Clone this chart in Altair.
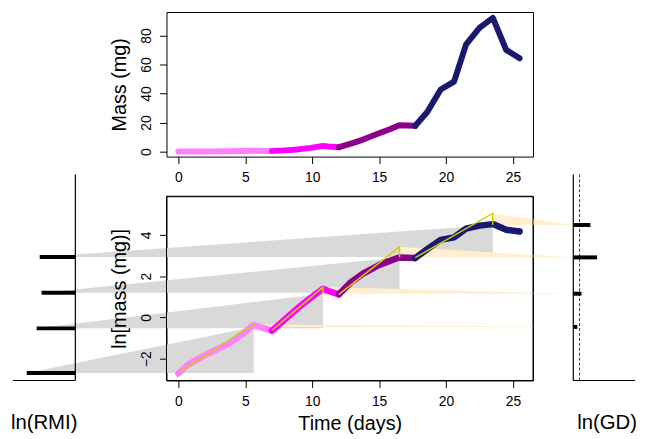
import altair as alt
import pandas as pd

# ---------------- data ----------------
instars = ["1st", "2nd", "3rd", "4th"]
instar_colors = ["#FF80FF", "#FF00FF", "#8B008B", "#191970"]

day_i1 = [0.0, 0.7, 1.8, 2.8, 3.8, 4.8, 5.6, 7.0]
mass_i1 = [0.066, 0.101, 0.151, 0.208, 0.287, 0.449, 0.691, 0.527]
day_i2 = [7.0, 7.9, 8.9, 9.9, 10.8, 11.2, 12.0]
mass_i2 = [0.527, 0.878, 1.553, 2.586, 4.015, 3.597, 3.065]
day_i3 = [12.0, 12.9, 13.8, 15.0, 15.8, 16.5, 17.7]
mass_i3 = [3.065, 5.53, 8.33, 12.68, 15.49, 18.17, 17.81]
day_i4 = [17.7, 18.6, 19.6, 20.6, 21.5, 22.5, 23.5, 24.5, 25.5]
mass_i4 = [17.81, 27.3, 42.8, 48.2, 73.9, 85.3, 92.1, 70.0, 64.3]

# per-instar growth summary (ln mass)
model_start_day = [0.05, 7.0, 12.0, 17.7]
model_start_ln = [-2.65, -0.62, 1.12, 2.90]
peak_day = [5.63, 10.8, 16.53, 23.49]
pred_peak_ln = [-0.33, 1.47, 3.42, 5.04]
ln_start = [-2.69, -0.53, 1.20, 2.93]
ln_end = [-0.46, 1.15, 2.91, 4.48]
ln_rmi = [3.63, 2.89, 2.52, 2.66]      # left-panel bar lengths (time-axis units)
ln_gd = [0.30, 0.61, 1.78, 1.28]       # right-panel bar lengths (time-axis units)

x_ticks = [0, 5, 10, 15, 20, 25]
mass_ticks = [0, 20, 40, 60, 80]
lnmass_ticks = [-2, 0, 2, 4]

# ---------------- layout constants ----------------
XLIM = [-0.888, 26.50]
Y_TOP_LIM = [-3.41, 96.18]
Y_BOT_LIM = [-3.056, 5.872]
LEFT_AXIS, LEFT_END = -7.70, -12.36
RIGHT_AXIS, RIGHT_END = 29.51, 34.12
GD_REF = 29.98
PANEL_TOP = 6.93
SIDE_TITLE_X = [-10.03, 32.03]
FONT = "Liberation Sans"

# ---------------- tables ----------------
rows = []
for name, days, masses in zip(instars, [day_i1, day_i2, day_i3, day_i4],
                              [mass_i1, mass_i2, mass_i3, mass_i4]):
    for k, (d, m) in enumerate(zip(days, masses)):
        rows.append({"instar": name, "day": d, "mass": m, "seq": k})
lines_df = pd.DataFrame(rows)

grey_rows, beige_rows, yellow_rows = [], [], []
for i, name in enumerate(instars):
    grey_rows.append({"instar": name, "x": LEFT_AXIS - ln_rmi[i], "y": ln_start[i], "y2": ln_start[i]})
    grey_rows.append({"instar": name, "x": peak_day[i], "y": ln_start[i], "y2": ln_end[i]})
    beige_rows.append({"instar": name, "x": peak_day[i], "y": pred_peak_ln[i], "y2": ln_end[i]})
    beige_rows.append({"instar": name, "x": RIGHT_AXIS, "y": ln_end[i], "y2": ln_end[i]})
    yellow_rows.append({"instar": name, "x": model_start_day[i], "y": model_start_ln[i], "seq": 0})
    yellow_rows.append({"instar": name, "x": peak_day[i], "y": pred_peak_ln[i], "seq": 1})
    yellow_rows.append({"instar": name, "x": peak_day[i], "y": ln_end[i], "seq": 2})
grey_df = pd.DataFrame(grey_rows)
beige_df = pd.DataFrame(beige_rows)
yellow_df = pd.DataFrame(yellow_rows)

left_bars = pd.DataFrame({"x": [LEFT_AXIS] * 4,
                          "x2": [LEFT_AXIS - v for v in ln_rmi], "y": ln_start})
right_bars = pd.DataFrame({"x": [RIGHT_AXIS] * 4,
                           "x2": [RIGHT_AXIS + v for v in ln_gd], "y": ln_end})
vlines = pd.DataFrame({"x": [LEFT_AXIS, RIGHT_AXIS], "y": [Y_BOT_LIM[0]] * 2,
                       "y2": [PANEL_TOP] * 2})
hlines = pd.DataFrame({"x": [LEFT_END, RIGHT_AXIS], "x2": [LEFT_AXIS, RIGHT_END],
                       "y": [Y_BOT_LIM[0]] * 2})
ref_df = pd.DataFrame({"x": [GD_REF], "y": [Y_BOT_LIM[0]], "y2": [PANEL_TOP]})
frame_df = pd.DataFrame({"x": [XLIM[0]], "x2": [XLIM[1]], "y": [Y_BOT_LIM[0]], "y2": [Y_BOT_LIM[1]]})
side_titles = pd.DataFrame({"x": SIDE_TITLE_X, "label": ["ln(RMI)", "ln(GD)"]})

xs = alt.Scale(domain=XLIM, nice=False, zero=False)
ys_top = alt.Scale(domain=Y_TOP_LIM, nice=False, zero=False)
ys_bot = alt.Scale(domain=Y_BOT_LIM, nice=False, zero=False)
col_scale = alt.Scale(domain=instars, range=instar_colors)

common_axis = dict(tickSize=7, tickColor="black", domain=False, grid=False, zindex=1,
                   labelFont=FONT, labelFontSize=14, labelColor="black",
                   titleFont=FONT, titleFontWeight="normal", titleColor="black")

ax_top_x = alt.Axis(values=x_ticks, labelPadding=7, title=None, **common_axis)
ax_top_y = alt.Axis(values=mass_ticks, labelAngle=-90, labelAlign="center",
                    labelBaseline="bottom", labelPadding=6, title="Mass (mg)",
                    titleFontSize=20, titlePadding=10, **common_axis)
ax_bot_x = alt.Axis(values=x_ticks, labelPadding=7, title="Time (days)",
                    titleFontSize=20, titlePadding=5, **common_axis)
ax_bot_y = alt.Axis(values=lnmass_ticks, labelAngle=-90, labelAlign="center",
                    labelBaseline="bottom", labelPadding=6, title="ln[mass (mg)]",
                    titleFontSize=20, titlePadding=10, **common_axis)

X_BOT = lambda f: alt.X(f, scale=xs, axis=ax_bot_x)
Y_BOT = lambda f: alt.Y(f, scale=ys_bot, axis=ax_bot_y)

# ---------------- top panel ----------------
top = alt.Chart(lines_df).mark_line(strokeWidth=6, strokeCap="round", strokeJoin="round").encode(
    x=alt.X("day:Q", scale=xs, axis=ax_top_x),
    y=alt.Y("mass:Q", scale=ys_top, axis=ax_top_y),
    color=alt.Color("instar:N", scale=col_scale, legend=None),
    order="seq:Q",
).properties(width=370, height=146)

# ---------------- bottom panel ----------------
grey = alt.Chart(grey_df).mark_area(color="#D9D9D9", opacity=1).encode(
    x=X_BOT("x:Q"),
    y=alt.Y("y:Q", scale=ys_bot, axis=ax_bot_y, stack=None),
    y2="y2:Q",
    detail="instar:N",
)
beige = alt.Chart(beige_df).mark_area(color="#FFEFD0", opacity=1).encode(
    x=X_BOT("x:Q"),
    y=alt.Y("y:Q", scale=ys_bot, axis=ax_bot_y, stack=None),
    y2="y2:Q",
    detail="instar:N",
)
thick = alt.Chart(lines_df).transform_calculate(lnmass="log(datum.mass)").mark_line(
    strokeWidth=6.5, strokeCap="round", strokeJoin="round").encode(
    x=X_BOT("day:Q"),
    y=Y_BOT("lnmass:Q"),
    color=alt.Color("instar:N", scale=col_scale, legend=None),
    order="seq:Q",
)
yellow = alt.Chart(yellow_df).mark_line(strokeWidth=1.5, color="#CDCD00").encode(
    x=X_BOT("x:Q"),
    y=Y_BOT("y:Q"),
    detail="instar:N",
    order="seq:Q",
)
frame = alt.Chart(frame_df).mark_rect(fillOpacity=0, stroke="black", strokeWidth=1).encode(
    x=X_BOT("x:Q"), x2="x2:Q",
    y=Y_BOT("y:Q"), y2="y2:Q",
)
vl = alt.Chart(vlines).mark_rule(color="black", strokeWidth=1.2).encode(
    x=X_BOT("x:Q"),
    y=Y_BOT("y:Q"), y2="y2:Q",
)
hl = alt.Chart(hlines).mark_rule(color="black", strokeWidth=1.2).encode(
    x=X_BOT("x:Q"), x2="x2:Q",
    y=Y_BOT("y:Q"),
)
ref = alt.Chart(ref_df).mark_rule(color="#333333", strokeWidth=1, strokeDash=[3, 2]).encode(
    x=X_BOT("x:Q"),
    y=Y_BOT("y:Q"), y2="y2:Q",
)
lbars = alt.Chart(left_bars).mark_rule(color="black", strokeWidth=4).encode(
    x=X_BOT("x:Q"), x2="x2:Q",
    y=Y_BOT("y:Q"),
)
rbars = alt.Chart(right_bars).mark_rule(color="black", strokeWidth=4).encode(
    x=X_BOT("x:Q"), x2="x2:Q",
    y=Y_BOT("y:Q"),
)
stitles = alt.Chart(side_titles).mark_text(font=FONT, fontSize=20.5, color="black",
                                           baseline="alphabetic", align="center").encode(
    x=X_BOT("x:Q"),
    y=alt.value(235),
    text="label:N",
)

bottom = alt.layer(grey, beige, thick, yellow, frame, vl, hl, ref, lbars, rbars, stitles).properties(
    width=370, height=186)

chart = alt.vconcat(top, bottom, spacing=40, bounds="flush", background="white",
                    padding={"left": 2, "top": 1, "right": 0, "bottom": 0}).configure_view(
    stroke="black", strokeWidth=1)

chart.save("out.html", embed_options={"renderer": "svg", "actions": False})
